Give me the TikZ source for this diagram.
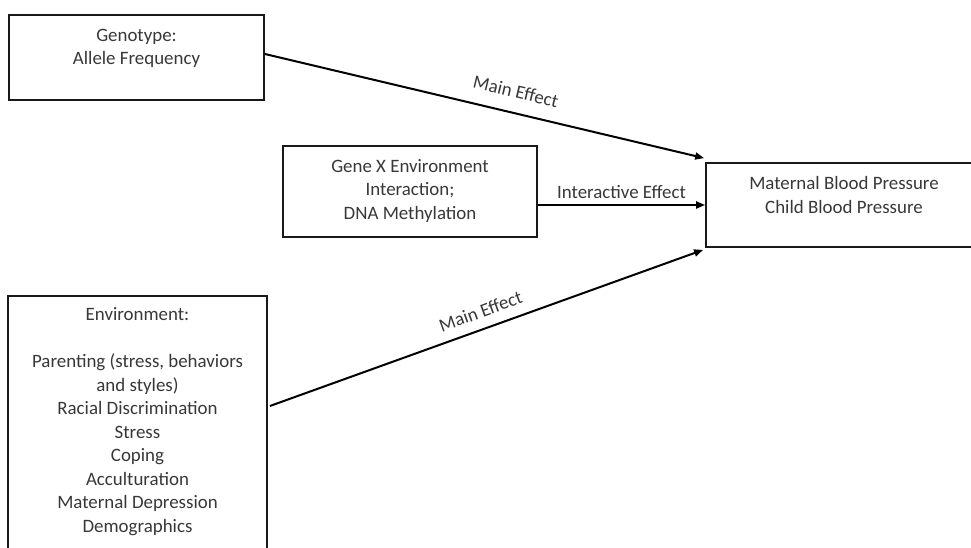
\documentclass[tikz,border=0pt]{standalone}
\usepackage{fontspec}
\setmainfont{Carlito}
\usetikzlibrary{arrows.meta,calc}
\begin{document}
\begin{tikzpicture}[x=1pt,y=-1pt,
  box/.style={draw=black!90, line width=1.8pt, inner sep=0pt},
  txt/.style={align=center, font=\fontsize{18.9}{23.5}\selectfont, text=black!78, inner sep=0pt, anchor=base},
  conn/.style={draw=black, line width=2pt, -{Triangle[length=9pt,width=7pt]}},
  lab/.style={font=\fontsize{18.9}{23.5}\selectfont, text=black!78, sloped, inner sep=0pt}]
\useasboundingbox (0,0) rectangle (971,548);
\clip (0,0) rectangle (971,548);
\fill[white] (0,0) rectangle (971,548);
% boxes
\node[box, minimum width=255pt, minimum height=85pt] (g) at (136.5,57.5) {};
\node[box, minimum width=254pt, minimum height=91pt] (x) at (410,191.5) {};
\node[box, minimum width=276pt, minimum height=84pt] (o) at (844,205) {};
\node[box, minimum width=259pt, minimum height=274pt] (e) at (137.5,433) {};
% texts (base anchor = baseline of the last line)
\node[txt] (gt) at (136.5,65) {Genotype:\\Allele Frequency};
\node[txt] (xt) at (410,219) {Gene X Environment\\Interaction;\\DNA Methylation};
\node[txt] (ot) at (844,213.3) {Maternal Blood Pressure\\Child Blood Pressure};
\node[txt] (et) at (137.5,532) {Environment:\\[23.5pt]Parenting (stress, behaviors\\and styles)\\Racial Discrimination\\Stress\\Coping\\Acculturation\\Maternal Depression\\Demographics};
% connectors
\draw[conn] ([yshift=3.5pt]g.east) -- node[lab, pos=0.56, above=14pt] (l1) {Main Effect} ([shift={(-1pt,4pt)}]o.north west);
\draw[conn] ([yshift=-13.5pt]x.east) -- node[lab, midway, above=5pt] (l2) {Interactive Effect} (o.west);
\draw[conn] ([shift={(2pt,27pt)}]e.east) -- node[lab, pos=0.5, above=10pt] (l3) {Main Effect} ([shift={(-2pt,-2pt)}]o.south west);
\end{tikzpicture}
\end{document}
